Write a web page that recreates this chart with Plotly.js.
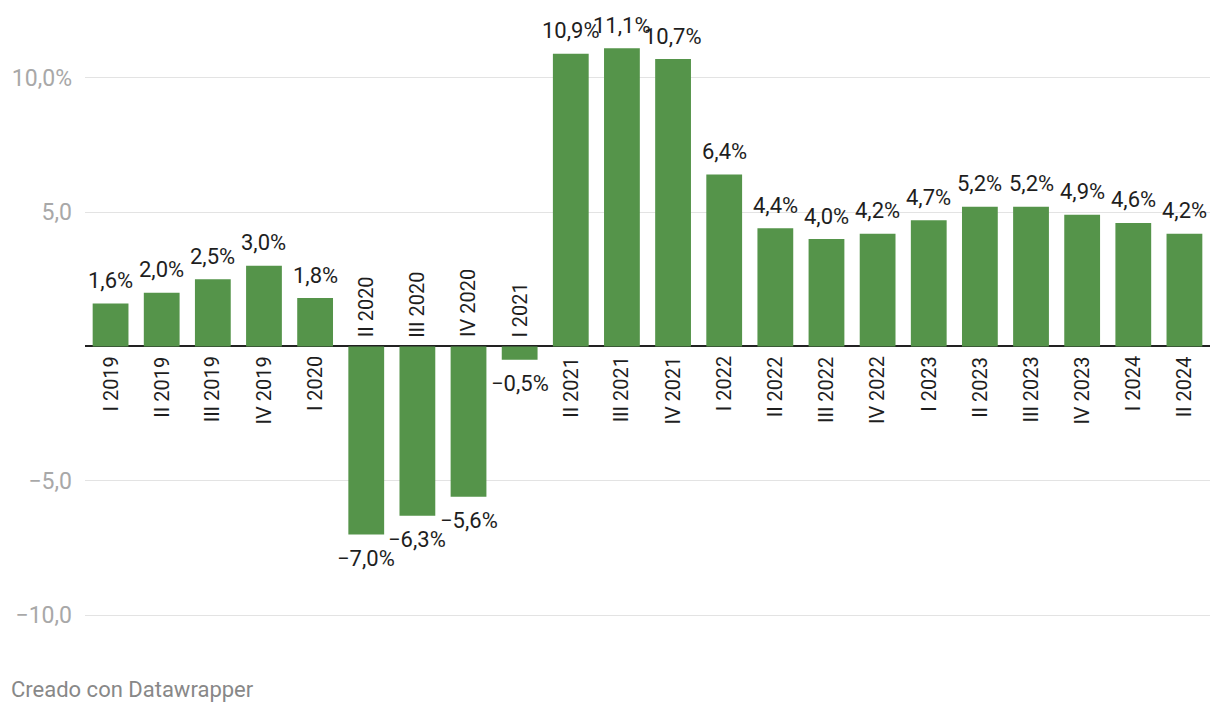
<!DOCTYPE html>
<html>
<head>
<meta charset="utf-8">
<script src="https://cdn.plot.ly/plotly-3.0.1.min.js"></script>
<style>
  html, body { margin: 0; padding: 0; background: #fff; }
  #chart { width: 1220px; height: 712px; }
</style>
</head>
<body>
<div id="chart"></div>
<script>
const categories = ["I 2019", "II 2019", "III 2019", "IV 2019", "I 2020", "II 2020", "III 2020", "IV 2020", "I 2021", "II 2021", "III 2021", "IV 2021", "I 2022", "II 2022", "III 2022", "IV 2022", "I 2023", "II 2023", "III 2023", "IV 2023", "I 2024", "II 2024"];
const values = [1.6, 2.0, 2.5, 3.0, 1.8, -7.0, -6.3, -5.6, -0.5, 10.9, 11.1, 10.7, 6.4, 4.4, 4.0, 4.2, 4.7, 5.2, 5.2, 4.9, 4.6, 4.2];
const tickValues = [-10, -5, 5, 10];
const tickLabels = ["\u221210,0", "\u22125,0", "5,0", "10,0%"];

function fmt(v) {
  const s = Math.abs(v).toFixed(1).replace(".", ",") + "%";
  return (v < 0 ? "\u2212" : "") + s;
}

const trace = {
  type: "bar",
  x: categories,
  y: values,
  marker: { color: "#55944a" },
  hoverinfo: "none",
  cliponaxis: false
};

const annotations = [];
categories.forEach((c, i) => {
  const v = values[i];
  annotations.push({
    x: c, y: v, xref: "x", yref: "y",
    text: fmt(v), showarrow: false,
    xanchor: "center", yanchor: "middle",
    yshift: v >= 0 ? 23 : -24,
    font: { family: "Roboto, sans-serif", size: 22, color: "#1e1e1e" }
  });
  annotations.push({
    x: c, y: 0, xref: "x", yref: "y",
    text: c, showarrow: false, textangle: -90,
    xanchor: "center", yanchor: v >= 0 ? "top" : "bottom",
    yshift: v >= 0 ? -8 : 7,
    font: { family: "Roboto, sans-serif", size: 20, color: "#1e1e1e" }
  });
});
annotations.push({
  xref: "paper", yref: "paper", x: -76/1125, y: -49/625,
  xanchor: "left", yanchor: "middle",
  text: "Creado con Datawrapper", showarrow: false,
  font: { family: "Roboto, sans-serif", size: 22, color: "#888" }
});

const layout = {
  width: 1220, height: 712,
  margin: { l: 85, r: 10, t: 15, b: 72 },
  paper_bgcolor: "#fff", plot_bgcolor: "#fff",
  bargap: 0.3,
  showlegend: false,
  font: { family: "Roboto, sans-serif" },
  xaxis: {
    type: "category",
    range: [-0.5, 21.5],
    showticklabels: false, showgrid: false, zeroline: false, ticks: ""
  },
  yaxis: {
    range: [-10.93, 12.34],
    tickvals: tickValues, ticktext: tickLabels,
    showgrid: true, gridcolor: "#e3e3e3", gridwidth: 1,
    zeroline: true, zerolinecolor: "#222", zerolinewidth: 2,
    ticks: "", ticklabelstandoff: 12,
    tickfont: { family: "Roboto, sans-serif", size: 23, color: "#a8a8a8" },
    fixedrange: true
  },
  annotations: annotations
};

Plotly.newPlot("chart", [trace], layout, { displayModeBar: false, staticPlot: true });
</script>
</body>
</html>
